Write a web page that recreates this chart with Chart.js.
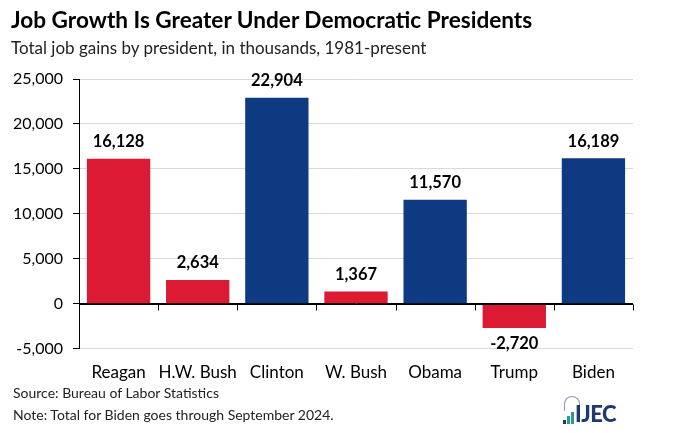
<!DOCTYPE html>
<html>
<head>
<meta charset="utf-8">
<script src="https://cdn.jsdelivr.net/npm/chart.js@4.4.1/dist/chart.umd.min.js"></script>
<style>
  body { margin: 0; background: #fff; font-family: Lato, "Open Sans", sans-serif; }
  #wrap { position: relative; width: 686px; height: 433px; overflow: hidden; }
  #chart { position: absolute; left: 0; top: 0; }
  .title { position: absolute; left: 11px; top: 6px; font-size: 22.6px; font-weight: bold; color: #000; }
  .sub { position: absolute; left: 11px; top: 37px; font-size: 17px; color: #222; }
  .note { position: absolute; left: 13px; font-size: 14px; color: #222; }
  .logo { position: absolute; left: 560px; top: 394px; width: 64px; height: 36px; }
  .logo .bar { position: absolute; bottom: 6px; width: 3px; }
  .logo .dome { position: absolute; left: 4px; top: 2px; width: 14px; height: 14px; border: 1px solid #8a9bb5; border-bottom: none; border-radius: 8px 8px 0 0; }
  .logo .txt { position: absolute; left: 15px; top: 6px; font-size: 22px; font-weight: 900; color: #1d3a6b; letter-spacing: -0.5px; }
</style>
</head>
<body>
<div id="wrap">
  <canvas id="chart" width="686" height="433"></canvas>
  <div class="title">Job Growth Is Greater Under Democratic Presidents</div>
  <div class="sub">Total job gains by president, in thousands, 1981-present</div>
  <div class="note" style="top:384px">Source: Bureau of Labor Statistics</div>
  <div class="note" style="top:406px">Note: Total for Biden goes through September 2024.</div>
  <div class="logo">
    <div class="dome"></div>
    <div class="bar" style="left:3px;height:4px;background:#1d3a6b"></div>
    <div class="bar" style="left:7px;height:8px;background:#2a9d8f"></div>
    <div class="bar" style="left:11px;height:12px;background:#2a9d8f"></div>
    <div class="txt">IJEC</div>
  </div>
</div>
<script>
const presidents = ['Reagan', 'H.W. Bush', 'Clinton', 'W. Bush', 'Obama', 'Trump', 'Biden'];
const jobGains = [16128, 2634, 22904, 1367, 11570, -2720, 16189];
const party = ['R', 'R', 'D', 'R', 'D', 'R', 'D'];
const yTicks = [-5000, 0, 5000, 10000, 15000, 20000, 25000];

const RED = '#dc1a33';
const BLUE = '#0e3a82';

// value labels above / below bars
const valueLabels = {
    id: 'valueLabels',
    afterDatasetsDraw(chart) {
        const ctx = chart.ctx;
        const meta = chart.getDatasetMeta(0);
        ctx.save();
        ctx.font = 'bold 16.5px Lato, sans-serif';
        ctx.fillStyle = '#000';
        ctx.textAlign = 'center';
        ctx.textBaseline = 'middle';
        meta.data.forEach((bar, i) => {
            const v = jobGains[i];
            const txt = v.toLocaleString('en-US');
            if (v >= 0) {
                ctx.fillText(txt, bar.x, bar.y - 17);
            } else {
                ctx.fillText(txt, bar.x, bar.y + 16);
            }
        });
        ctx.restore();
    }
};

// small tick marks on the zero line between categories
const zeroTicks = {
    id: 'zeroTicks',
    afterDatasetsDraw(chart) {
        const ctx = chart.ctx;
        const x = chart.scales.x;
        const y0 = Math.round(chart.scales.y.getPixelForValue(0)) + 0.5;
        const step = x.getPixelForValue(1) - x.getPixelForValue(0);
        ctx.save();
        ctx.strokeStyle = '#000';
        ctx.lineWidth = 1;
        ctx.beginPath();
        ctx.moveTo(chart.chartArea.left, y0);
        ctx.lineTo(chart.chartArea.right, y0);
        for (let i = 0; i < presidents.length; i++) {
            const bx = Math.round(x.getPixelForValue(i) + step / 2) + 0.5;
            ctx.moveTo(bx, y0);
            ctx.lineTo(bx, y0 + 6);
        }
        ctx.stroke();
        ctx.restore();
    }
};

const ctx = document.getElementById('chart').getContext('2d');
new Chart(ctx, {
    type: 'bar',
    data: {
        labels: presidents,
        datasets: [{
            data: jobGains,
            backgroundColor: party.map(p => p === 'D' ? BLUE : RED),
            borderWidth: 0,
            barPercentage: 0.8,
            categoryPercentage: 1.0
        }]
    },
    options: {
        responsive: false,
        animation: false,
        layout: { padding: { top: 79, left: 0, right: 53, bottom: 44 } },
        plugins: { legend: { display: false }, tooltip: { enabled: false } },
        scales: {
            x: {
                grid: { display: false },
                border: { display: false },
                ticks: {
                    color: '#000',
                    font: { size: 17, family: 'Lato, sans-serif' },
                    padding: 6,
                    maxRotation: 0,
                    minRotation: 0,
                    autoSkip: false
                }
            },
            y: {
                min: -5000,
                max: 25000,
                afterBuildTicks(scale) { scale.ticks = yTicks.map(v => ({ value: v })); },
                afterFit(scale) { scale.width = 79; },
                grid: {
                    color: c => c.tick && c.tick.value === 0 ? '#000' : '#d9d9d9',
                    tickColor: '#000',
                    tickLength: 6
                },
                border: { color: '#000', width: 1 },
                ticks: {
                    color: '#000',
                    padding: 10,
                    font: { size: 16, family: 'Lato, sans-serif' },
                    callback: v => v.toLocaleString('en-US')
                }
            }
        }
    },
    plugins: [valueLabels, zeroTicks]
});
</script>
</body>
</html>
